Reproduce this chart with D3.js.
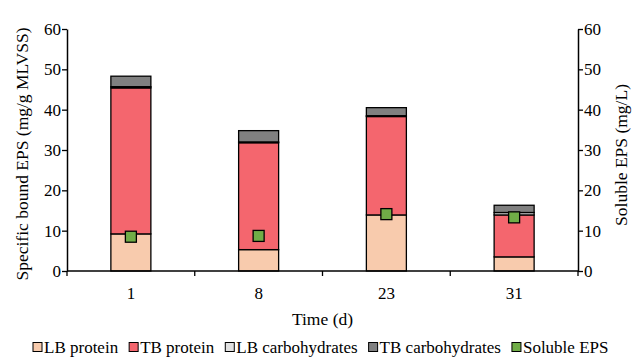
<!DOCTYPE html>
<html>
<head>
<meta charset="utf-8">
<script src="https://cdnjs.cloudflare.com/ajax/libs/d3/7.8.5/d3.min.js"></script>
<style>
body{margin:0;background:#fff}
svg text{font-family:"Liberation Serif","Times New Roman",serif;fill:#000}
</style>
</head>
<body>
<svg id="chart" width="640" height="358"></svg>
<script>
// data
var days = ["1", "8", "23", "31"]
var lbProtein = [9.2, 5.3, 13.9, 3.5]
var tbProtein = [36.2, 26.5, 24.4, 10.4]
var lbCarb = [0.3, 0.2, 0.2, 0.6]
var tbCarb = [2.6, 2.8, 2.0, 1.8]
var solubleEPS = [8.5, 8.7, 14.1, 13.3]
var yTicks = [0, 10, 20, 30, 40, 50, 60]

var keys = ["LB protein", "TB protein", "LB carbohydrates", "TB carbohydrates"]
var colors = {"LB protein": "#F8CBAD", "TB protein": "#F4666E", "LB carbohydrates": "#E0E0E0", "TB carbohydrates": "#808080", "Soluble EPS": "#70AD47"}

var rows = days.map(function(d, i){
  return {day: d, "LB protein": lbProtein[i], "TB protein": tbProtein[i],
    "LB carbohydrates": lbCarb[i], "TB carbohydrates": tbCarb[i], soluble: solubleEPS[i]}
})

var svg = d3.select("#chart")
var plotL = 67, plotR = 578, plotT = 29, plotB = 271

var x = d3.scaleBand().domain(days).range([plotL, plotR]).paddingInner(0).paddingOuter(0)
var y = d3.scaleLinear().domain([0, 60]).range([plotB, plotT])
var y2 = d3.scaleLinear().domain([0, 60]).range([plotB, plotT])
var barW = 40

var stack = d3.stack().keys(keys)(rows)

svg.append("g").selectAll("g").data(stack).enter().append("g")
  .attr("fill", function(s){ return colors[s.key] })
  .selectAll("rect").data(function(s){ return s }).enter().append("rect")
  .attr("x", function(d){ return x(d.data.day) + x.bandwidth()/2 - barW/2 })
  .attr("width", barW)
  .attr("y", function(d){ return y(d[1]) })
  .attr("height", function(d){ return y(d[0]) - y(d[1]) })
  .attr("stroke", "#000").attr("stroke-width", 1.3)

// x axis line + ticks at band edges
svg.append("line").attr("x1", plotL).attr("x2", plotR).attr("y1", plotB).attr("y2", plotB)
  .attr("stroke", "#000").attr("stroke-width", 1.5)
var edges = days.map(function(d){ return x(d) }).concat([plotR])
svg.append("g").selectAll("line").data(edges).enter().append("line")
  .attr("x1", function(d){ return d }).attr("x2", function(d){ return d })
  .attr("y1", plotB).attr("y2", plotB + 5)
  .attr("stroke", "#000").attr("stroke-width", 1.3)
svg.append("g").selectAll("text").data(days).enter().append("text")
  .attr("x", function(d){ return x(d) + x.bandwidth()/2 }).attr("y", 299)
  .attr("text-anchor", "middle").attr("font-size", 17).text(function(d){ return d })

// left axis
var gl = svg.append("g").attr("transform", "translate(" + plotL + ",0)")
  .call(d3.axisLeft(y).tickValues(yTicks).tickSize(5).tickSizeOuter(0))
gl.select(".domain").attr("stroke-width", 1.5)
gl.selectAll(".tick line").attr("stroke-width", 1.3)
gl.selectAll(".tick text").attr("font-size", 17).attr("x", -6)

// right axis
var gr = svg.append("g").attr("transform", "translate(" + plotR + ",0)")
  .call(d3.axisRight(y2).tickValues(yTicks).tickSize(5).tickSizeOuter(0))
gr.select(".domain").attr("stroke-width", 1.5)
gr.selectAll(".tick line").attr("stroke-width", 1.3)
gr.selectAll(".tick text").attr("font-size", 17).attr("x", 6)

// soluble EPS markers
svg.append("g").selectAll("rect").data(rows).enter().append("rect")
  .attr("x", function(d){ return x(d.day) + x.bandwidth()/2 - 5.5 })
  .attr("y", function(d){ return y2(d.soluble) - 5.5 })
  .attr("width", 11).attr("height", 11)
  .attr("fill", colors["Soluble EPS"]).attr("stroke", "#000").attr("stroke-width", 1.3)

// titles
svg.append("text").attr("transform", "translate(28," + ((plotT + plotB)/2 + 4) + ") rotate(-90)")
  .attr("text-anchor", "middle").attr("font-size", 17.5).text("Specific bound EPS (mg/g MLVSS)")
svg.append("text").attr("transform", "translate(627," + ((plotT + plotB)/2 + 5) + ") rotate(-90)")
  .attr("text-anchor", "middle").attr("font-size", 17.5).text("Soluble EPS (mg/L)")
svg.append("text").attr("x", (plotL + plotR)/2).attr("y", 325)
  .attr("text-anchor", "middle").attr("font-size", 17.5).text("Time (d)")

// legend
var legendKeys = keys.concat(["Soluble EPS"])
var legend = svg.append("g")
var lx = 33
legendKeys.forEach(function(k){
  var g = legend.append("g").attr("transform", "translate(" + lx + ",0)")
  g.append("rect").attr("x", 0).attr("y", 342.5).attr("width", 9).attr("height", 9)
    .attr("fill", colors[k]).attr("stroke", "#000").attr("stroke-width", 1)
  var t = g.append("text").attr("x", 11).attr("y", 353).attr("font-size", 17).text(k)
  lx += 11 + t.node().getComputedTextLength() + 11
})
</script>
</body>
</html>
